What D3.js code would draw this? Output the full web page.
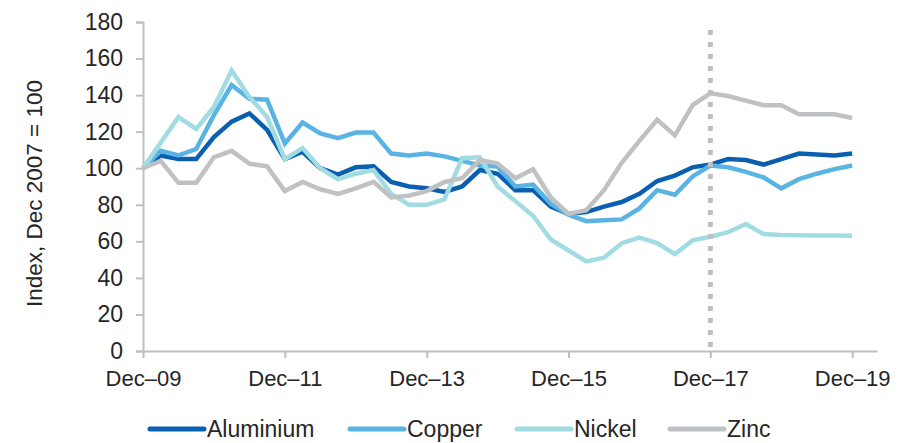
<!DOCTYPE html>
<html>
<head>
<meta charset="utf-8">
<script src="https://cdn.jsdelivr.net/npm/d3@7"></script>
<style>
  html, body { margin: 0; padding: 0; background: #fff; }
  svg { display: block; font-family: "Liberation Sans", Arial, sans-serif; }
</style>
</head>
<body>
<svg id="chart" width="914" height="443"></svg>
<script>
// Quarterly metal price indices, Dec 2009 to Dec 2019 (Dec 2007 = 100)
const quarters = d3.range(41); // 0 = Dec-09, 40 = Dec-19

const aluminium = [100, 107, 105, 105, 117, 125.5, 130, 121, 105, 109,
  100, 96.5, 100.5, 101, 92.5, 90, 89, 87, 90, 99,
  97, 88, 88, 79, 75, 76, 79, 81.5, 86, 93,
  96, 100.5, 102, 105, 104.5, 102, 105, 108, 107.5, 107, 108];

const copper = [100, 109.5, 107, 110.5, 129, 145.5, 138, 137.5, 113.5, 125,
  119, 116.5, 119.5, 119.5, 108, 107, 108, 106.5, 104, 101.5,
  101, 90, 91, 80.5, 74.5, 71, 71.5, 72, 78, 88,
  85.5, 95.5, 101.5, 100.5, 98, 95, 89, 94, 97, 99.5, 101.5];

const nickel = [100, 114, 128, 121.5, 133.5, 153.5, 139, 128, 105, 111,
  100, 94, 97, 99, 86, 80, 80, 83, 105.5, 106,
  90, 82, 74, 61, 55, 49, 51, 59, 62, 59,
  53, 60.5, 62.5, 65, 69.5, 64, 63.5, 63.3, 63.2, 63.2, 63];

const zinc = [100, 104, 92, 92, 106, 109.5, 102.5, 101, 87.5, 92.5,
  88.5, 86, 89, 92.5, 84, 85, 87.5, 92.5, 94.5, 104.5,
  102.5, 94.5, 99.5, 84, 75, 77, 88, 103, 115, 126.5,
  118, 134.5, 141, 139.5, 137, 134.5, 134.5, 129.5, 129.5, 129.5, 127.5];

const seriesNames = ["Aluminium", "Copper", "Nickel", "Zinc"];
const seriesColors = ["#0a5fb0", "#59b4e3", "#a2dce3", "#bfc1c3"];
const seriesValues = [aluminium, copper, nickel, zinc];

const xTickIndex = [0, 8, 16, 24, 32, 40];
const xTickLabels = ["Dec\u201309", "Dec\u201311", "Dec\u201313", "Dec\u201315", "Dec\u201317", "Dec\u201319"];
const yTicks = [0, 20, 40, 60, 80, 100, 120, 140, 160, 180];
const markerIndex = 32; // Dec-17 reference line
const yTitle = "Index, Dec 2007 = 100";

const svg = d3.select("#chart");
const axisColor = "#bfbfbf";
const textColor = "#262626";
const fontFamily = "Liberation Sans, Arial, sans-serif";

const plot = { left: 143, top: 22, bottom: 351 };
const x = d3.scaleLinear().domain([0, 41.4]).range([plot.left, 877]);
const y = d3.scaleLinear().domain([0, 180]).range([plot.bottom, plot.top]);

// Y axis
const yAxis = svg.append("g").attr("transform", `translate(${plot.left},0)`)
  .call(d3.axisLeft(y).tickValues(yTicks).tickSize(7).tickPadding(13));
yAxis.select(".domain").attr("stroke", axisColor).attr("stroke-width", 2);
yAxis.selectAll(".tick line").attr("stroke", axisColor).attr("stroke-width", 2);
yAxis.selectAll(".tick text").attr("fill", textColor)
  .style("font-size", "23px").style("font-family", fontFamily);

// X axis
const xAxis = svg.append("g").attr("transform", `translate(0,${plot.bottom})`)
  .call(d3.axisBottom(x).tickValues(xTickIndex).tickFormat((d, i) => xTickLabels[i])
    .tickSize(7).tickSizeOuter(0).tickPadding(12));
xAxis.select(".domain").attr("stroke", axisColor).attr("stroke-width", 2);
xAxis.selectAll(".tick line").attr("stroke", axisColor).attr("stroke-width", 2);
xAxis.selectAll(".tick text").attr("fill", textColor)
  .style("font-size", "22px").style("font-family", fontFamily);

// Y axis title
svg.append("text")
  .attr("transform", `translate(42,${(plot.top + plot.bottom) / 2 + 7}) rotate(-90)`)
  .attr("text-anchor", "middle")
  .attr("fill", textColor)
  .style("font-size", "22.5px")
  .text(yTitle);

// Series lines
const line = d3.line().x((d, i) => x(quarters[i])).y(d => y(d));
seriesValues.forEach((vals, s) => {
  svg.append("path")
    .datum(vals)
    .attr("fill", "none")
    .attr("stroke", seriesColors[s])
    .attr("stroke-width", 4.5)
    .attr("stroke-linejoin", "miter")
    .attr("d", line);
});

// Dotted reference line at Dec-17
svg.append("line")
  .attr("x1", x(markerIndex)).attr("x2", x(markerIndex))
  .attr("y1", 30).attr("y2", plot.bottom)
  .attr("stroke", axisColor)
  .attr("stroke-width", 5)
  .attr("stroke-dasharray", "5,7");

// Legend
const legendX = [150, 350, 517, 670];
const legend = svg.append("g");
seriesNames.forEach((name, s) => {
  const g = legend.append("g").attr("transform", `translate(${legendX[s]},429)`);
  g.append("line").attr("x1", 0).attr("x2", 54).attr("y1", 0).attr("y2", 0)
    .attr("stroke", seriesColors[s]).attr("stroke-width", 5).attr("stroke-linecap", "round");
  g.append("text").attr("x", 57).attr("y", 0).attr("dy", "0.35em")
    .attr("fill", textColor).style("font-size", "23px").text(name);
});
</script>
</body>
</html>
